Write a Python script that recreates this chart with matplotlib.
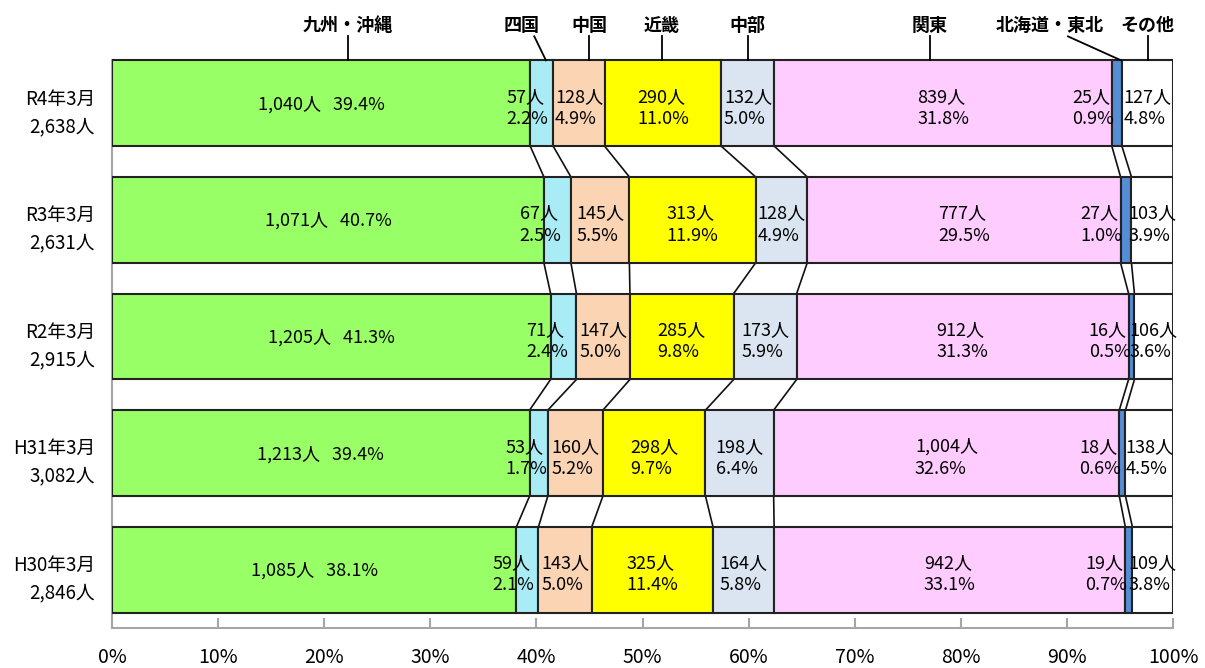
import numpy as np
import matplotlib
matplotlib.use("Agg")
import matplotlib.pyplot as plt

plt.rcParams["font.family"] = ["Noto Sans CJK JP", "DejaVu Sans"]

# ----- Data -----
regions = ["九州・沖縄", "四国", "中国", "近畿", "中部", "関東", "北海道・東北", "その他"]
years = ["R4年3月", "R3年3月", "R2年3月", "H31年3月", "H30年3月"]
totals = [2638, 2631, 2915, 3082, 2846]
counts = [
    [1040, 57, 128, 290, 132, 839, 25, 127],
    [1071, 67, 145, 313, 128, 777, 27, 103],
    [1205, 71, 147, 285, 173, 912, 16, 106],
    [1213, 53, 160, 298, 198, 1004, 18, 138],
    [1085, 59, 143, 325, 164, 942, 19, 109],
]
colors = ["#99ff66", "#a9ecf6", "#fbd4b4", "#ffff00", "#dbe5f1",
          "#ffccff", "#558ed5", "#ffffff"]

# top label placement (fraction of axis) and leader line ends
label_x = [0.222, 0.386, 0.450, 0.518, 0.599, 0.771, 0.884, 0.976]
leader_top = [0.222, 0.398, 0.450, 0.518, 0.599, 0.771, 0.901, 0.976]
leader_bot = [0.222, 0.409, 0.450, 0.518, 0.599, 0.771, 0.951, 0.976]

# ----- Figure -----
fig = plt.figure(figsize=(12.05, 6.68), dpi=100)
ax = fig.add_axes([112 / 1205, 1 - 628 / 668, 1061 / 1205, 583 / 668])

h = 0.737
shares = np.array(counts, dtype=float) / np.array(totals)[:, None]
cums = np.cumsum(shares, axis=1)
lefts = cums - shares

for j, reg in enumerate(regions):
    ax.barh(range(len(years)), shares[:, j], left=lefts[:, j], height=h,
            color=colors[j], edgecolor="#222222", linewidth=1.5, zorder=3)

# segment labels
for i in range(len(years)):
    for j in range(len(regions)):
        v = counts[i][j]
        pct = v / totals[i] * 100
        l, w = lefts[i, j], shares[i, j]
        if j == 0:
            txt = f"{v:,}人   {pct:.1f}%"
            ax.text(l + w / 2, i + 0.01, txt, ha="center", va="center",
                    fontsize=13, zorder=5)
            continue
        txt = f"{v:,}人\n{pct:.1f}%"
        if j == 1:
            x, ha = l - 0.003, "center"
        elif j == 6:
            x, ha = l + 0.002, "right"
        else:
            x, ha = l + w / 2, "center"
        ax.text(x, i + 0.04, txt, ha=ha, va="center", multialignment="left",
                fontsize=13, linespacing=1.3, zorder=5)

# series lines between bars
for i in range(len(years) - 1):
    for j in range(len(regions)):
        ax.plot([cums[i, j], cums[i + 1, j]], [i + h / 2, i + 1 - h / 2],
                color="#111111", lw=1.2, zorder=2)

# region labels with leader lines
for j, reg in enumerate(regions):
    ax.text(label_x[j], -0.668, reg, ha="center", va="center", fontsize=13,
            fontweight="bold", clip_on=False)
    ax.plot([leader_top[j], leader_bot[j]], [-0.574, -h / 2], color="black",
            lw=1.3, clip_on=False, zorder=4)

# year labels
for i, (y, t) in enumerate(zip(years, totals)):
    ax.text(-0.016, i + 0.08, f"{y}\n{t:,}人", ha="right", va="center",
            multialignment="right", fontsize=13.5, linespacing=1.4,
            transform=ax.get_yaxis_transform())

ax.set_xlim(0, 1)
ax.set_ylim(len(years) - 0.5, -0.5)
ax.set_yticks([])
ax.set_xticks(np.arange(0, 1.01, 0.1))
ax.set_xticklabels([f"{int(round(t * 100))}%" for t in np.arange(0, 1.01, 0.1)],
                   fontsize=14)
ax.tick_params(axis="x", direction="in", length=7, width=1.5, color="#a6a6a6", pad=14)
for s in ["top", "right"]:
    ax.spines[s].set_visible(False)
for s in ["left", "bottom"]:
    ax.spines[s].set_color("#a6a6a6")
    ax.spines[s].set_linewidth(1.5)
ax.spines["left"].set_bounds(len(years) - 0.5, -h / 2)

fig.savefig("out.png", dpi=100)
